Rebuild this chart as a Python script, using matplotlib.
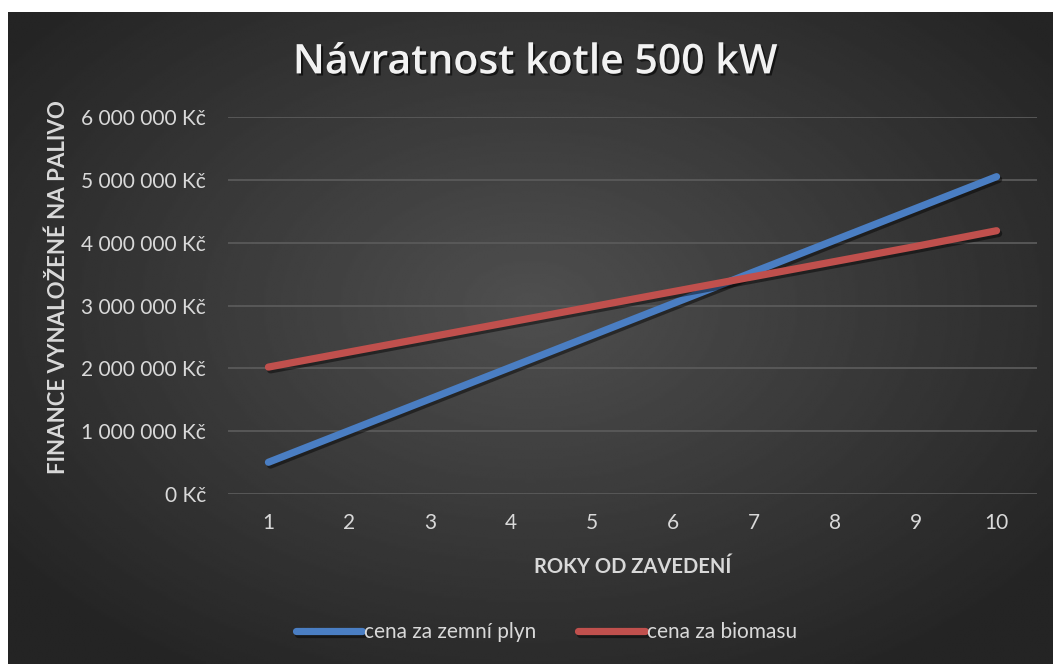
import numpy as np
import matplotlib.pyplot as plt
import matplotlib.patheffects as pe
from matplotlib.ticker import FuncFormatter

plt.rcParams['font.family'] = ['Lato', 'DejaVu Sans']

roky = [1, 2, 3, 4, 5, 6, 7, 8, 9, 10]
plyn = [505000, 1010000, 1515000, 2020000, 2525000, 3030000, 3535000, 4040000, 4545000, 5050000]
biomasa = [2020000, 2260000, 2500000, 2740000, 2980000, 3220000, 3460000, 3700000, 3940000, 4190000]
nazvy = ["cena za zemní plyn", "cena za biomasu"]
barvy = ["#4a7ec3", "#c0504d"]

fig = plt.figure(figsize=(10.53, 6.64), dpi=100)
fig.patch.set_facecolor("white")

# tmave pozadi s radialnim prechodem (jako v Excelu)
bg = fig.add_axes([8 / 1053, 0, 1 - 8 / 1053, 1 - 12 / 664])
yy, xx = np.mgrid[-1:1:300j, -1:1:500j]
r = np.sqrt((xx * 0.95) ** 2 + ((yy + 0.1) * 0.9) ** 2)
bg.imshow(0.31 - 0.14 * np.clip(r, 0, 1.2), cmap="gray", vmin=0, vmax=1,
          aspect="auto", extent=[0, 1, 0, 1], interpolation="bilinear")
bg.set_axis_off()

ax = fig.add_axes([228 / 1053, 1 - 494 / 664, (1037 - 228) / 1053, (494 - 117) / 664])
ax.set_facecolor("none")

stin = [pe.SimpleLineShadow(offset=(1.5, -2), shadow_color="black", alpha=0.45), pe.Normal()]
ax.plot(roky, plyn, color=barvy[0], lw=5.2, solid_capstyle="round", label=nazvy[0], path_effects=stin, zorder=3)
ax.plot(roky, biomasa, color=barvy[1], lw=5.2, solid_capstyle="round", label=nazvy[1], path_effects=stin, zorder=3)

ax.set_xlim(0.5, 10.5)
ax.set_ylim(0, 6000000)
ax.set_xticks(roky)
ax.set_yticks(np.arange(0, 6000001, 1000000))
ax.yaxis.set_major_formatter(FuncFormatter(lambda v, p: "{:,.0f} Kč".format(v).replace(",", " ")))
ax.grid(axis="y", color="#5a5a5a", lw=1.3)
ax.set_axisbelow(True)
for s in ax.spines.values():
    s.set_visible(False)
ax.tick_params(length=0, colors="#d9d9d9", labelsize=15)
ax.tick_params(axis="y", pad=16)
ax.tick_params(axis="x", pad=14)

ax.set_xlabel("ROKY OD ZAVEDENÍ", color="#d9d9d9", fontsize=14.5, fontweight="bold", labelpad=17)
# popisek osy y - umisteni rucne, aby sedel jako v predloze
fig.text(58 / 1053, 1 - 287 / 664, "FINANCE VYNALOŽENÉ NA PALIVO", rotation=90, ha="center", va="center",
         color="#d9d9d9", fontsize=16, fontweight="bold")

fig.text(0.508, 0.906, "Návratnost kotle 500 kW", ha="center", va="center", fontsize=29.5,
         fontweight="semibold", color="#f2f2f2", family=["Open Sans", "DejaVu Sans"],
         path_effects=[pe.withSimplePatchShadow(offset=(1.5, -1.5), shadow_rgbFace="black", alpha=0.6)])

leg = fig.legend(loc="center", bbox_to_anchor=(0.519, 0.048), ncol=2, frameon=False,
                 fontsize=15, handlelength=3.2, handletextpad=0.1, columnspacing=2.0)
for t in leg.get_texts():
    t.set_color("#d9d9d9")

fig.savefig("out.png", dpi=100, facecolor=fig.get_facecolor())
